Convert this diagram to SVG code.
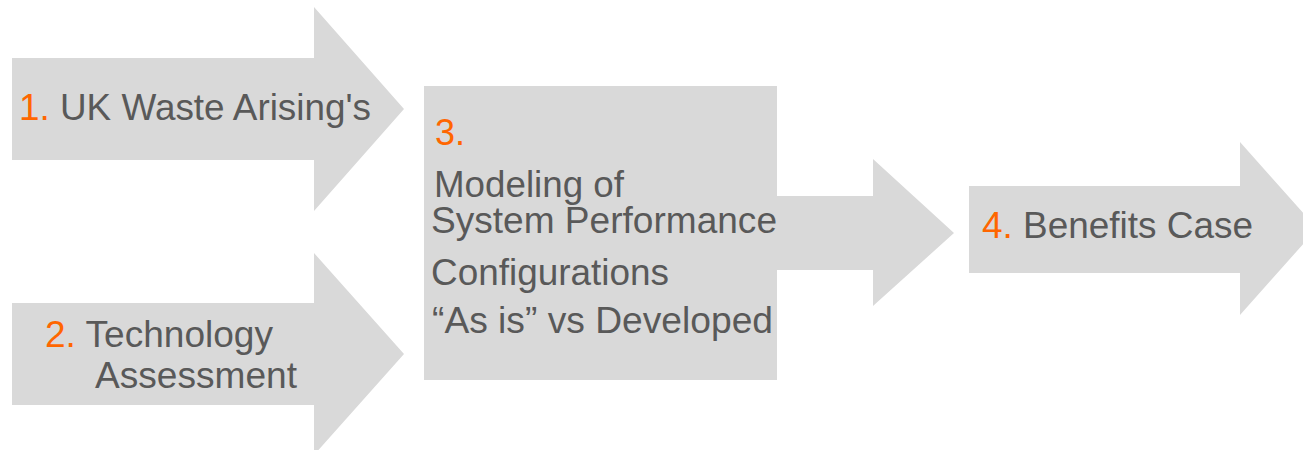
<svg xmlns="http://www.w3.org/2000/svg" width="1303" height="450" viewBox="0 0 1303 450">
<style>
.shape{fill:#d9d9d9;stroke:none}
.t{font-family:"Liberation Sans",Arial,sans-serif;font-size:36px;fill:#595959}
.n{fill:#ff6600}
</style>
<rect width="1303" height="450" fill="#ffffff"/>
<g id="node1">
<polygon class="shape" points="12,58 314,58 314,7 404,109 314,211 314,160 12,160"/>
<text class="t" x="19" y="120" textLength="352" lengthAdjust="spacingAndGlyphs"><tspan class="n">1.</tspan> UK Waste Arising's</text>
</g>
<g id="node2">
<polygon class="shape" points="12,303 314,303 314,253 404,354 314,455 314,405 12,405"/>
<text class="t" x="45" y="347" textLength="228" lengthAdjust="spacingAndGlyphs"><tspan class="n">2.</tspan> Technology</text>
<text class="t" x="95" y="388" textLength="202" lengthAdjust="spacingAndGlyphs">Assessment</text>
</g>
<g id="connectors">
<polygon class="shape" points="760,196 873,196 873,159 954,233 873,306 873,270 760,270"/>
</g>
<g id="node3">
<rect class="shape" x="424" y="86" width="353" height="294"/>
<text class="t n" x="435" y="145">3.</text>
<text class="t" x="434" y="197" textLength="190" lengthAdjust="spacingAndGlyphs">Modeling of</text>
<text class="t" x="431" y="233" textLength="346" lengthAdjust="spacingAndGlyphs">System Performance</text>
<text class="t" x="431" y="285" textLength="238" lengthAdjust="spacingAndGlyphs">Configurations</text>
<text class="t" x="432" y="333" textLength="341" lengthAdjust="spacingAndGlyphs">“As is” vs Developed</text>
</g>
<g id="node4">
<polygon class="shape" points="969,186 1240,186 1240,142 1317,228.5 1240,315 1240,273 969,273"/>
<text class="t" x="982" y="238" textLength="271" lengthAdjust="spacingAndGlyphs"><tspan class="n">4.</tspan> Benefits Case</text>
</g>
</svg>
